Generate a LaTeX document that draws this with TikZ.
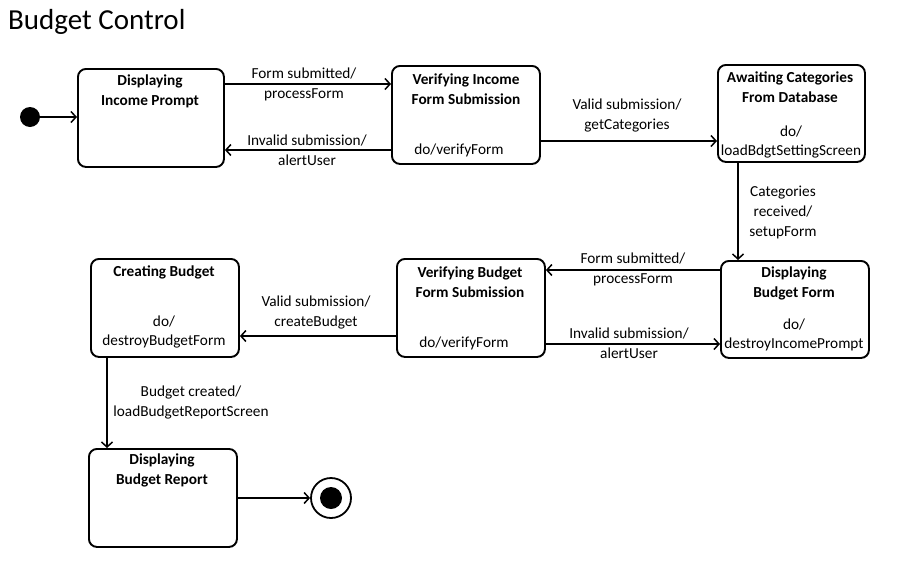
\documentclass[tikz,border=0pt]{standalone}
\usepackage{fontspec}
\setmainfont{Carlito}
\usetikzlibrary{arrows.meta}
\begin{document}
\begin{tikzpicture}[x=1pt,y=1pt,
  box/.style={draw, line width=1.9pt, rounded corners=8pt, inner sep=0pt, anchor=north west},
  arr/.style={line width=1.5pt, -{Straight Barb[length=5pt,width=11pt]}},
  lbl/.style={align=center, inner sep=0pt, font=\fontsize{15.3}{20}\selectfont},
  ttl/.style={align=center, inner sep=0pt, font=\fontsize{15.3}{20}\selectfont\bfseries},
  act/.style={align=center, inner sep=0pt, font=\fontsize{15.3}{19}\selectfont}]
\useasboundingbox[fill=white] (0,0) rectangle (904,-560);

\node[anchor=west, inner sep=0pt, font=\fontsize{29}{32}\selectfont] (title) at (8,-22) {Budget Control};

% states
\node[box, minimum width=146pt, minimum height=98pt] (b1) at (77,-68) {};
\node[box, minimum width=148pt, minimum height=98pt] (b2) at (391,-65) {};
\node[box, minimum width=147pt, minimum height=97pt] (b3) at (717,-64) {};
\node[box, minimum width=148pt, minimum height=97pt] (b4) at (720,-260) {};
\node[box, minimum width=148pt, minimum height=98pt] (b5) at (396,-258) {};
\node[box, minimum width=148pt, minimum height=98pt] (b6) at (90,-258) {};
\node[box, minimum width=148pt, minimum height=98pt] (b7) at (88,-448) {};

% state texts
\node[ttl] (t1) at (150,-91) {Displaying\\Income Prompt};
\node[ttl] (t2) at (466,-89) {Verifying Income\\Form Submission};
\node[act] (d2) at (459,-150) {do/verifyForm};
\node[ttl] (t3) at (790,-87) {Awaiting Categories\\From Database};
\node[act] (d3) at (791,-142) {do/\\loadBdgtSettingScreen};
\node[ttl] (t4) at (794,-283) {Displaying\\Budget Form};
\node[act] (d4) at (794,-335) {do/\\destroyIncomePrompt};
\node[ttl] (t5) at (470,-282) {Verifying Budget\\Form Submission};
\node[act] (d5) at (464,-343) {do/verifyForm};
\node[ttl] (t6) at (164,-272) {Creating Budget};
\node[act] (d6) at (164,-332) {do/\\destroyBudgetForm};
\node[ttl] (t7) at (162,-470) {Displaying\\Budget Report};

% pseudo states
\node[circle, fill, inner sep=0pt, minimum size=20pt] (init) at (30,-117) {};
\node[circle, draw, line width=1.8pt, inner sep=0pt, minimum size=40pt] (fin) at (331,-498) {};
\node[circle, fill, inner sep=0pt, minimum size=22pt] (finin) at (fin) {};

% transitions
\draw[arr] (init) -- (b1.west |- init);
\draw[arr] (b1.east |- 0,-84) -- (b2.west |- 0,-84);
\draw[arr] (b2.west |- 0,-150) -- (b1.east |- 0,-150);
\draw[arr] (b2.east |- 0,-141) -- (b3.west |- 0,-141);
\draw[arr] (b3.south -| 738,0) -- (b4.north -| 738,0);
\draw[arr] (b4.west |- 0,-270) -- (b5.east |- 0,-270);
\draw[arr] (b5.east |- 0,-344) -- (b4.west |- 0,-344);
\draw[arr] (b5.west |- 0,-336) -- (b6.east |- 0,-336);
\draw[arr] (b6.south -| 107,0) -- (b7.north -| 107,0);
\draw[arr] (b7.east |- fin) -- (fin.west);

% transition labels
\node[lbl] (l12) at (304,-84) {Form submitted/\\processForm};
\node[lbl] (l21) at (307,-150) {Invalid submission/\\alertUser};
\node[lbl] (l23) at (627,-115) {Valid submission/\\getCategories};
\node[lbl] (l34) at (783,-212) {Categories\\received/\\setupForm};
\node[lbl] (l45) at (633,-269) {Form submitted/\\processForm};
\node[lbl] (l54) at (629,-343) {Invalid submission/\\alertUser};
\node[lbl] (l56) at (316,-312) {Valid submission/\\createBudget};
\node[lbl] (l67) at (191,-402) {Budget created/\\loadBudgetReportScreen};
\end{tikzpicture}
\end{document}
